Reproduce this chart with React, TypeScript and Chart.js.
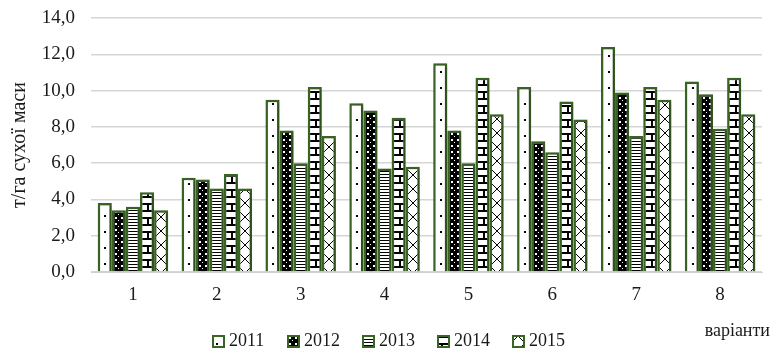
import React, { useEffect, useRef } from 'react';
import { Chart, registerables } from 'chart.js';
Chart.register(...registerables);

const categories = ['1', '2', '3', '4', '5', '6', '7', '8'];
const years = ['2011', '2012', '2013', '2014', '2015'];
const v2011 = [3.8, 5.2, 9.5, 9.3, 11.5, 10.2, 12.4, 10.5];
const v2012 = [3.4, 5.1, 7.8, 8.9, 7.8, 7.2, 9.9, 9.8];
const v2013 = [3.6, 4.6, 6.0, 5.7, 6.0, 6.6, 7.5, 7.9];
const v2014 = [4.4, 5.4, 10.2, 8.5, 10.7, 9.4, 10.2, 10.7];
const v2015 = [3.4, 4.6, 7.5, 5.8, 8.7, 8.4, 9.5, 8.7];
const yMin = 0;
const yMax = 14;
const yStep = 2;
const yTitle = 'т/га сухої маси';
const xTitle = 'варіанти';

const FONT = "'Liberation Serif', 'Times New Roman', serif";
const GREEN = '#3a6524';
const TEXT = '#1a1a1a';

type Kind = 'dots' | 'darkdots' | 'hlines' | 'brick' | 'cross';
const kinds: Kind[] = ['dots', 'darkdots', 'hlines', 'brick', 'cross'];

function makePattern(kind: Kind): CanvasPattern {
  const c = document.createElement('canvas');
  let w = 8, h = 8;
  if (kind === 'dots') { w = 14; h = 16; }
  if (kind === 'darkdots') { w = 6; h = 6; }
  if (kind === 'hlines') { w = 4; h = 3; }
  if (kind === 'brick') { w = 14; h = 14; }
  if (kind === 'cross') { w = 14; h = 14; }
  c.width = w; c.height = h;
  const g = c.getContext('2d')!;
  g.fillStyle = '#fff';
  g.fillRect(0, 0, w, h);
  g.fillStyle = '#000';
  g.strokeStyle = '#000';
  if (kind === 'dots') {
    g.fillRect(6, 7, 2, 2);
  } else if (kind === 'darkdots') {
    g.fillRect(0, 0, w, h);
    g.fillStyle = '#fff';
    g.fillRect(1, 1, 2, 2);
    g.fillRect(4, 4, 1, 1);
  } else if (kind === 'hlines') {
    g.fillRect(0, 0, w, 1);
  } else if (kind === 'brick') {
    g.fillRect(0, 0, w, 2);
    g.fillRect(0, 7, w, 2);
    g.fillRect(0, 0, 2, 7);
    g.fillRect(7, 7, 2, 7);
  } else if (kind === 'cross') {
    g.lineWidth = 1;
    g.beginPath();
    g.moveTo(0, 0); g.lineTo(w, h);
    g.moveTo(w, 0); g.lineTo(0, h);
    g.stroke();
  }
  return g.createPattern(c, 'repeat')!;
}

export default function App() {
  const ref = useRef<HTMLCanvasElement | null>(null);
  useEffect(() => {
    const canvas = ref.current!;
    const patterns = kinds.map(makePattern);
    const series = [v2011, v2012, v2013, v2014, v2015];

    const shadowPlugin = {
      id: 'shadow',
      beforeDatasetsDraw(chart: any) {
        const ctx = chart.ctx;
        ctx.save();
        ctx.shadowColor = 'rgba(0,0,0,0.3)';
        ctx.shadowBlur = 4;
        ctx.shadowOffsetX = 2;
        ctx.shadowOffsetY = 1;
      },
      afterDatasetsDraw(chart: any) {
        chart.ctx.restore();
      },
    };

    const legendPlugin = {
      id: 'customLegend',
      afterDraw(chart: any) {
        const ctx = chart.ctx as CanvasRenderingContext2D;
        ctx.save();
        ctx.font = `18px ${FONT}`;
        ctx.textBaseline = 'middle';
        ctx.fillStyle = TEXT;
        const startX = 213;
        const pitch = 75;
        const cy = 341;
        years.forEach((y, i) => {
          const x = startX + i * pitch;
          ctx.fillStyle = patterns[i];
          ctx.fillRect(x, cy - 5, 11, 11);
          ctx.strokeStyle = GREEN;
          ctx.lineWidth = 2;
          ctx.strokeRect(x, cy - 5, 11, 11);
          ctx.fillStyle = TEXT;
          ctx.textAlign = 'left';
          ctx.fillText(y, x + 16, cy);
        });
        ctx.textAlign = 'right';
        ctx.fillText(xTitle, 770, 331);
        ctx.restore();
      },
    };

    const chart = new Chart(canvas, {
      type: 'bar',
      data: {
        labels: categories,
        datasets: years.map((y, i) => ({
          label: y,
          data: series[i],
          backgroundColor: patterns[i],
          borderColor: GREEN,
          borderWidth: 2.5,
          categoryPercentage: 0.84,
          barPercentage: 1.0,
        })),
      },
      options: {
        responsive: false,
        animation: false,
        layout: { padding: { left: 0, right: 10, top: 18, bottom: 0 } },
        plugins: {
          legend: { display: false },
          tooltip: { enabled: false },
        },
        scales: {
          x: {
            grid: { display: false, drawTicks: false },
            border: { display: true, color: '#d0d0d0', width: 1 },
            ticks: { color: TEXT, font: { family: FONT, size: 19 }, padding: 12 },
            afterFit(scale: any) { scale.height = 78; scale.paddingLeft = 0; scale.paddingRight = 0; },
          },
          y: {
            min: yMin,
            max: yMax,
            ticks: {
              stepSize: yStep,
              color: TEXT,
              font: { family: FONT, size: 19 },
              padding: 16,
              callback: (v: any) => Number(v).toFixed(1).replace('.', ','),
            },
            grid: { color: '#d6d6d6', lineWidth: 1.5, drawTicks: false },
            border: { display: false },
            title: {
              display: true,
              text: yTitle,
              color: TEXT,
              font: { family: FONT, size: 20 },
              padding: { top: 8, bottom: 0 },
            },
            afterFit(scale: any) { scale.width = 91; scale.paddingTop = 0; scale.paddingBottom = 0; },
          },
        },
      },
      plugins: [shadowPlugin, legendPlugin],
    });
    return () => chart.destroy();
  }, []);
  return (
    <div style={{ position: 'fixed', left: 0, top: 0, width: 772, height: 350, background: '#fff' }}>
      <canvas ref={ref} width={772} height={350} style={{ width: 772, height: 350, display: 'block' }} />
    </div>
  );
}
